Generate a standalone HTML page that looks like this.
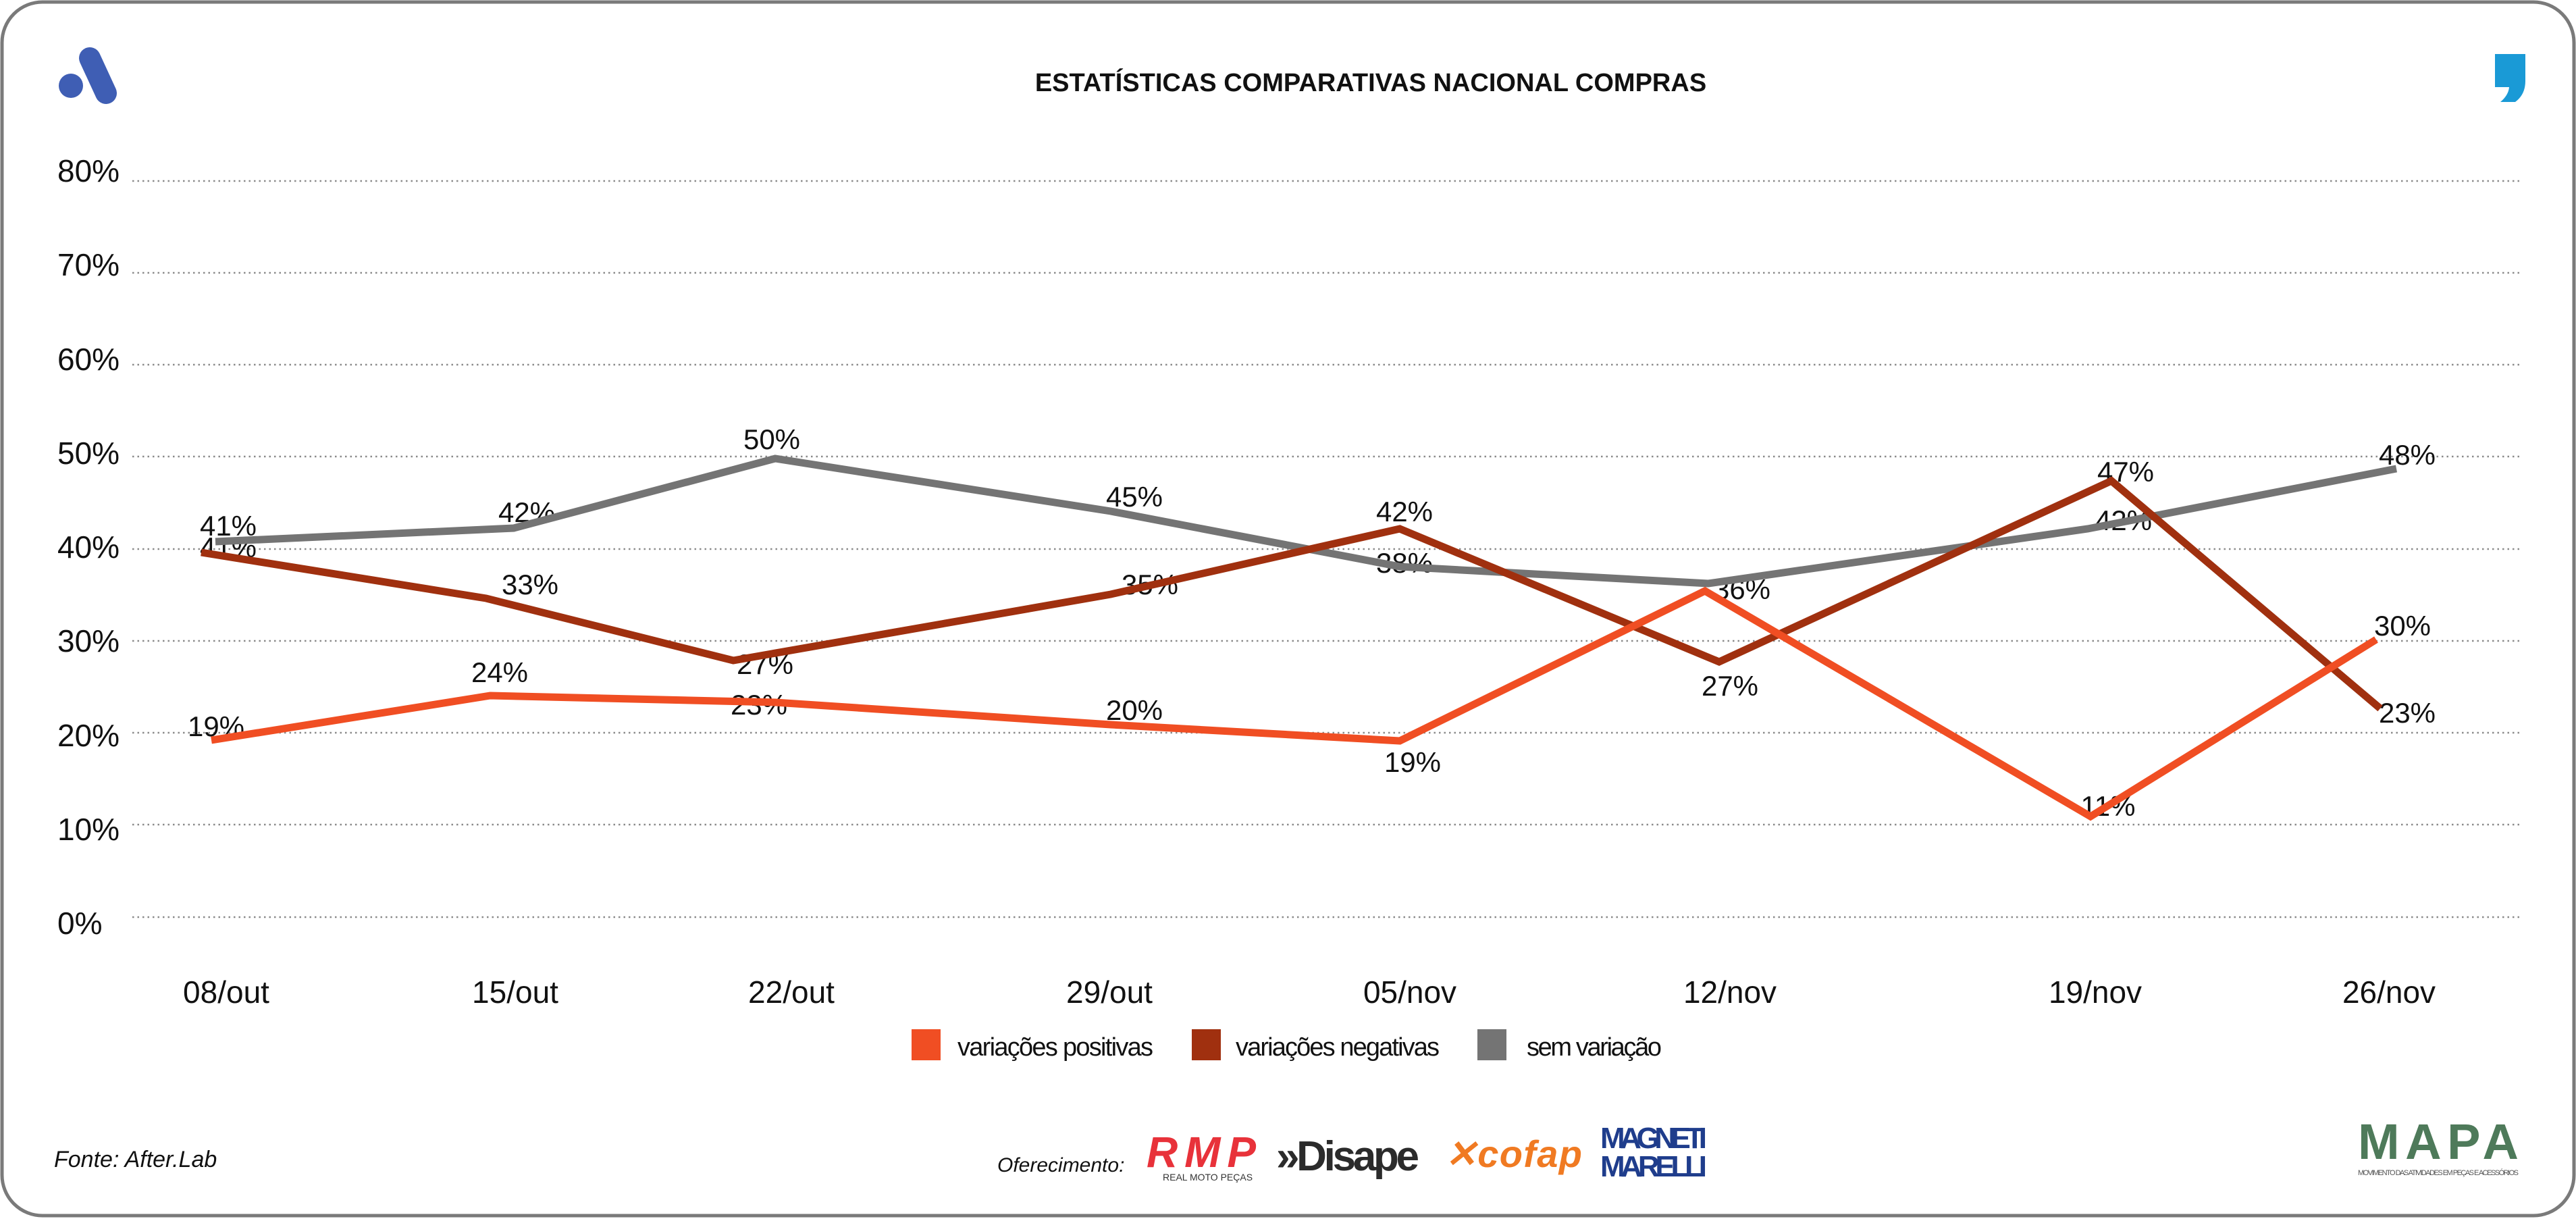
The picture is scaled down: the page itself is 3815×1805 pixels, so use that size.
<!DOCTYPE html>
<html><head><meta charset="utf-8"><style>
html,body{margin:0;padding:0;background:#fff;}
svg{display:block;}
text{font-family:"Liberation Sans",sans-serif;fill:#111;}
</style></head><body>
<svg width="3815" height="1805" viewBox="0 0 3815 1805" xmlns="http://www.w3.org/2000/svg">
<rect x="3" y="3" width="3809" height="1797" rx="60" ry="60" fill="#fff" stroke="#7a7a7a" stroke-width="5"/>
<g fill="#3f5eb4">
<circle cx="105" cy="127" r="18"/>
<line x1="133" y1="86" x2="157" y2="138" stroke="#3f5eb4" stroke-width="32" stroke-linecap="round"/>
</g>
<path d="M3695 80 h45 v40 q0 20 -15 31 h-22 q12 -10 13 -22 h-21 z" fill="#1a9ad6"/>
<text x="2030" y="135" text-anchor="middle" style="font-weight:bold;font-size:38px">ESTATÍSTICAS COMPARATIVAS NACIONAL COMPRAS</text>
<g stroke="#8a8a8a" stroke-width="2.5" stroke-dasharray="2.5 5">
<line x1="196" y1="268" x2="3731" y2="268"/>
<line x1="196" y1="404" x2="3731" y2="404"/>
<line x1="196" y1="540" x2="3731" y2="540"/>
<line x1="196" y1="676" x2="3731" y2="676"/>
<line x1="196" y1="813" x2="3731" y2="813"/>
<line x1="196" y1="949" x2="3731" y2="949"/>
<line x1="196" y1="1085" x2="3731" y2="1085"/>
<line x1="196" y1="1221" x2="3731" y2="1221"/>
<line x1="196" y1="1358" x2="3731" y2="1358"/>
</g>
<g font-size="46">
<text x="85" y="269">80%</text>
<text x="85" y="408">70%</text>
<text x="85" y="548">60%</text>
<text x="85" y="687">50%</text>
<text x="85" y="826">40%</text>
<text x="85" y="965">30%</text>
<text x="85" y="1105">20%</text>
<text x="85" y="1244">10%</text>
<text x="85" y="1383">0%</text>
</g>
<g font-size="46" text-anchor="middle">
<text x="335" y="1485">08/out</text>
<text x="763" y="1485">15/out</text>
<text x="1172" y="1485">22/out</text>
<text x="1643" y="1485">29/out</text>
<text x="2088" y="1485">05/nov</text>
<text x="2562" y="1485">12/nov</text>
<text x="3103" y="1485">19/nov</text>
<text x="3538" y="1485">26/nov</text>
</g>
<g font-size="42" text-anchor="middle">
<text x="338" y="793">41%</text>
<text x="780" y="773">42%</text>
<text x="1143" y="665">50%</text>
<text x="1680" y="750">45%</text>
<text x="2080" y="848">38%</text>
<text x="2580" y="887">36%</text>
<text x="3145" y="785">42%</text>
<text x="3565" y="688">48%</text>
<text x="338" y="825">41%</text>
<text x="785" y="880">33%</text>
<text x="1133" y="998">27%</text>
<text x="1703" y="880">35%</text>
<text x="2080" y="772">42%</text>
<text x="2562" y="1030">27%</text>
<text x="3148" y="713">47%</text>
<text x="3565" y="1070">23%</text>
<text x="320" y="1090">19%</text>
<text x="740" y="1010">24%</text>
<text x="1124" y="1058">23%</text>
<text x="1680" y="1066">20%</text>
<text x="2092" y="1143">19%</text>
<text x="3122" y="1208">11%</text>
<text x="3558" y="941">30%</text>
</g>
<g fill="none" stroke-width="11" stroke-linejoin="miter">
<polyline stroke="#747474" points="319,802 761,782 1148,679 1645,757 2073,839 2530,864 3092,783 3549,694"/>
<polyline stroke="#a0300f" points="298,818 720,886 1086,978 1645,880 2073,783 2546,980 3127,712 3525,1049"/>
<polyline stroke="#f04e23" points="313,1096 726,1030 1148,1040 1645,1073 2073,1097 2525,875 3096,1209 3519,947"/>
</g>
<rect x="1350" y="1524" width="43" height="46" fill="#f04e23"/>
<text x="1418" y="1563" font-size="38" textLength="290">variações positivas</text>
<rect x="1765" y="1524" width="43" height="46" fill="#a0300f"/>
<text x="1830" y="1563" font-size="38" textLength="302">variações negativas</text>
<rect x="2188" y="1524" width="43" height="46" fill="#747474"/>
<text x="2261" y="1563" font-size="38" textLength="200">sem variação</text>
<text x="80" y="1728" font-size="34" font-style="italic">Fonte: After.Lab</text>
<text x="1477" y="1735" font-size="30" font-style="italic">Oferecimento:</text>
<text x="1698" y="1728" font-size="64" font-weight="bold" font-style="italic" style="fill:#e8323a" textLength="162">RMP</text>
<text x="1722" y="1748" font-size="14" style="fill:#333">REAL MOTO PEÇAS</text>
<text x="1890" y="1733" font-size="62" font-weight="bold" style="fill:#2b2b2b" textLength="212">»Disape</text>
<text x="2140" y="1728" font-size="56" font-weight="bold" font-style="italic" style="fill:#f07a22" textLength="203">✕cofap</text>
<text x="2370" y="1700" font-size="44" font-weight="bold" style="fill:#1f3d8c" textLength="158">MAGNETI</text>
<text x="2370" y="1742" font-size="44" font-weight="bold" style="fill:#1f3d8c" textLength="158">MARELLI</text>
<text x="3492" y="1716" font-size="74" font-weight="bold" style="fill:#4e7a5a" textLength="238">MAPA</text>
<text x="3492" y="1740" font-size="11" style="fill:#555" textLength="238">MOVIMENTO DAS ATIVIDADES EM PEÇAS E ACESSÓRIOS</text>
</svg>
</body></html>
